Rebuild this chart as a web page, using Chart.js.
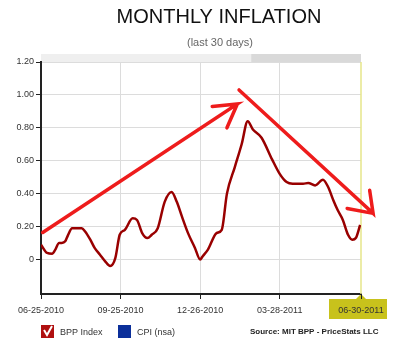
<!DOCTYPE html>
<html lang="en">
  <head>
    <meta charset="UTF-8" />
    <title>Monthly Inflation</title>
    <script src="https://cdn.jsdelivr.net/npm/chart.js"></script>
    <style>
      html, body { margin: 0; padding: 0; background: #fff; }
      #wrap { width: 400px; height: 346px; }
    </style>
  </head>
  <body>
    <div id="wrap"><canvas id="inflationChart" width="400" height="346"></canvas></div>
    <script>
      // days since 06-25-2010 and BPP index values
      const days = [0, 7, 13, 16, 21, 24, 28, 31, 36, 39, 43, 47, 51, 57, 62, 68, 74, 80, 86, 91, 97,
        106, 111, 117, 123, 128, 135, 143, 151, 157, 163, 170, 178, 184, 187, 193, 203, 209, 215,
        224, 232, 239, 245, 255, 267, 276, 284, 291, 303, 309, 317, 326, 332, 338, 343, 349, 355,
        360, 364, 369];
      const bpp = [0.09, 0.04, 0.035, 0.055, 0.10, 0.10, 0.11, 0.145, 0.19, 0.19, 0.19, 0.19, 0.17,
        0.12, 0.07, 0.03, -0.01, -0.04, 0.01, 0.15, 0.18, 0.25, 0.24, 0.16, 0.13, 0.15, 0.19, 0.35, 0.41,
        0.35, 0.26, 0.16, 0.07, 0.0, 0.02, 0.06, 0.16, 0.18, 0.40, 0.56, 0.70, 0.84, 0.79, 0.74,
        0.61, 0.52, 0.47, 0.46, 0.46, 0.465, 0.45, 0.485, 0.44, 0.36, 0.30, 0.24, 0.15, 0.12, 0.13,
        0.21];

      const yTicks = [0, 0.2, 0.4, 0.6, 0.8, 1.0, 1.2];
      const xTickDays = [0, 92, 184, 276, 370];
      const xTickLabels = ["06-25-2010", "09-25-2010", "12-26-2010", "03-28-2011", "06-30-2011"];

      // hand drawn arrows: shaft start, tip, barb, gap, tip, barb
      const arrowUpX = [2, 227, 198, null, 227, 215];
      const arrowUpY = [0.164, 0.945, 0.93, null, 0.945, 0.80];
      const arrowDownX = [229, 384, 380, null, 384, 354];
      const arrowDownY = [1.03, 0.28, 0.42, null, 0.28, 0.31];

      const legendItems = ["BPP Index", "CPI (nsa)"];
      const sourceText = "Source: MIT BPP - PriceStats LLC";

      const toPoints = (xs, ys) => xs.map((x, i) => ({ x: x, y: ys[i] }));

      const extras = {
        id: "extras",
        beforeDraw(chart) {
          const ctx = chart.ctx;
          const a = chart.chartArea;
          const xs = chart.scales.x;
          ctx.save();
          // titles
          ctx.fillStyle = "#111";
          ctx.textAlign = "center";
          ctx.font = "20px 'Liberation Sans', Arial, sans-serif";
          ctx.fillText("MONTHLY INFLATION", 219, 23);
          ctx.fillStyle = "#666";
          ctx.font = "11px 'Liberation Sans', Arial, sans-serif";
          ctx.fillText("(last 30 days)", 220, 46);
          // navigator bar on top
          const split = xs.getPixelForValue(243);
          ctx.fillStyle = "#efefef";
          ctx.fillRect(a.left, a.top - 8, split - a.left, 8);
          ctx.fillStyle = "#d9d9d9";
          ctx.fillRect(split, a.top - 8, a.right - split, 8);
          // box behind last date
          const px = xs.getPixelForValue(370);
          ctx.fillStyle = "#c8c21c";
          ctx.fillRect(px - 32, a.bottom + 5, 58, 20);
          ctx.beginPath();
          ctx.moveTo(px - 5, a.bottom + 5);
          ctx.lineTo(px, a.bottom);
          ctx.lineTo(px + 5, a.bottom + 5);
          ctx.fill();
          ctx.restore();
        },
        beforeDatasetsDraw(chart) {
          const ctx = chart.ctx;
          const a = chart.chartArea;
          const px = chart.scales.x.getPixelForValue(370);
          ctx.save();
          ctx.strokeStyle = "#e6e68a";
          ctx.lineWidth = 1.5;
          ctx.beginPath();
          ctx.moveTo(px, a.top);
          ctx.lineTo(px, a.bottom);
          ctx.stroke();
          ctx.restore();
        },
        afterDraw(chart) {
          const ctx = chart.ctx;
          ctx.save();
          // legend
          ctx.fillStyle = "#b01010";
          ctx.fillRect(41, 325, 13, 13);
          ctx.strokeStyle = "#fff";
          ctx.lineWidth = 2;
          ctx.beginPath();
          ctx.moveTo(44, 330);
          ctx.lineTo(47, 335);
          ctx.lineTo(52, 326);
          ctx.stroke();
          ctx.fillStyle = "#0b2f9a";
          ctx.fillRect(118, 325, 13, 13);
          ctx.fillStyle = "#333";
          ctx.font = "9px 'Liberation Sans', Arial, sans-serif";
          ctx.textAlign = "left";
          ctx.fillText(legendItems[0], 60, 335);
          ctx.fillText(legendItems[1], 137, 335);
          ctx.fillStyle = "#222";
          ctx.font = "bold 8px 'Liberation Sans', Arial, sans-serif";
          ctx.fillText(sourceText, 250, 334);
          ctx.restore();
        },
      };

      const ctx = document.getElementById("inflationChart").getContext("2d");
      const chart = new Chart(ctx, {
        type: "line",
        data: {
          datasets: [
            {
              label: legendItems[0],
              data: toPoints(days, bpp),
              borderColor: "#990000",
              borderWidth: 2.5,
              pointRadius: 0,
              tension: 0.4,
              cubicInterpolationMode: "monotone",
            },
            {
              label: "arrow up",
              data: toPoints(arrowUpX, arrowUpY),
              borderColor: "#ee1c1c",
              borderWidth: 3.5,
              pointRadius: 0,
              tension: 0,
              borderCapStyle: "round",
              spanGaps: false,
              clip: false,
            },
            {
              label: "arrow down",
              data: toPoints(arrowDownX, arrowDownY),
              borderColor: "#ee1c1c",
              borderWidth: 3.5,
              pointRadius: 0,
              tension: 0,
              borderCapStyle: "round",
              spanGaps: false,
              clip: false,
            },
          ],
        },
        options: {
          responsive: false,
          animation: false,
          layout: { padding: { top: 62, right: 39, left: 0, bottom: 0 } },
          plugins: {
            legend: { display: false },
            tooltip: { enabled: false },
          },
          scales: {
            x: {
              type: "linear",
              min: 0,
              max: 370,
              afterBuildTicks: (s) => {
                s.ticks = xTickDays.map((v) => ({ value: v }));
              },
              afterFit: (s) => {
                s.height = 52;
                s.paddingLeft = 0;
                s.paddingRight = 0;
              },
              ticks: {
                autoSkip: false,
                maxRotation: 0,
                padding: 6,
                color: "#333",
                font: { family: "'Liberation Sans', Arial, sans-serif", size: 9 },
                callback: (v) => xTickLabels[xTickDays.indexOf(v)],
              },
              grid: {
                color: (c) => (c.tick && (c.tick.value === 0 || c.tick.value === 370) ? "rgba(0,0,0,0)" : "#dcdcdc"),
                tickColor: "#222",
                tickLength: 5,
              },
              border: { color: "#222", width: 2 },
            },
            y: {
              min: -0.21,
              max: 1.2,
              afterBuildTicks: (s) => {
                s.ticks = yTicks.map((v) => ({ value: v }));
              },
              afterFit: (s) => {
                s.width = 41;
                s.paddingTop = 0;
                s.paddingBottom = 0;
              },
              ticks: {
                padding: 2,
                color: "#333",
                font: { family: "'Liberation Sans', Arial, sans-serif", size: 9 },
                callback: (v) => (v === 0 ? "0" : v.toFixed(2)),
              },
              grid: {
                color: "#dcdcdc",
                tickColor: "#222",
                tickLength: 5,
              },
              border: { color: "#222", width: 2 },
            },
          },
        },
        plugins: [extras],
      });
    </script>
  </body>
</html>
